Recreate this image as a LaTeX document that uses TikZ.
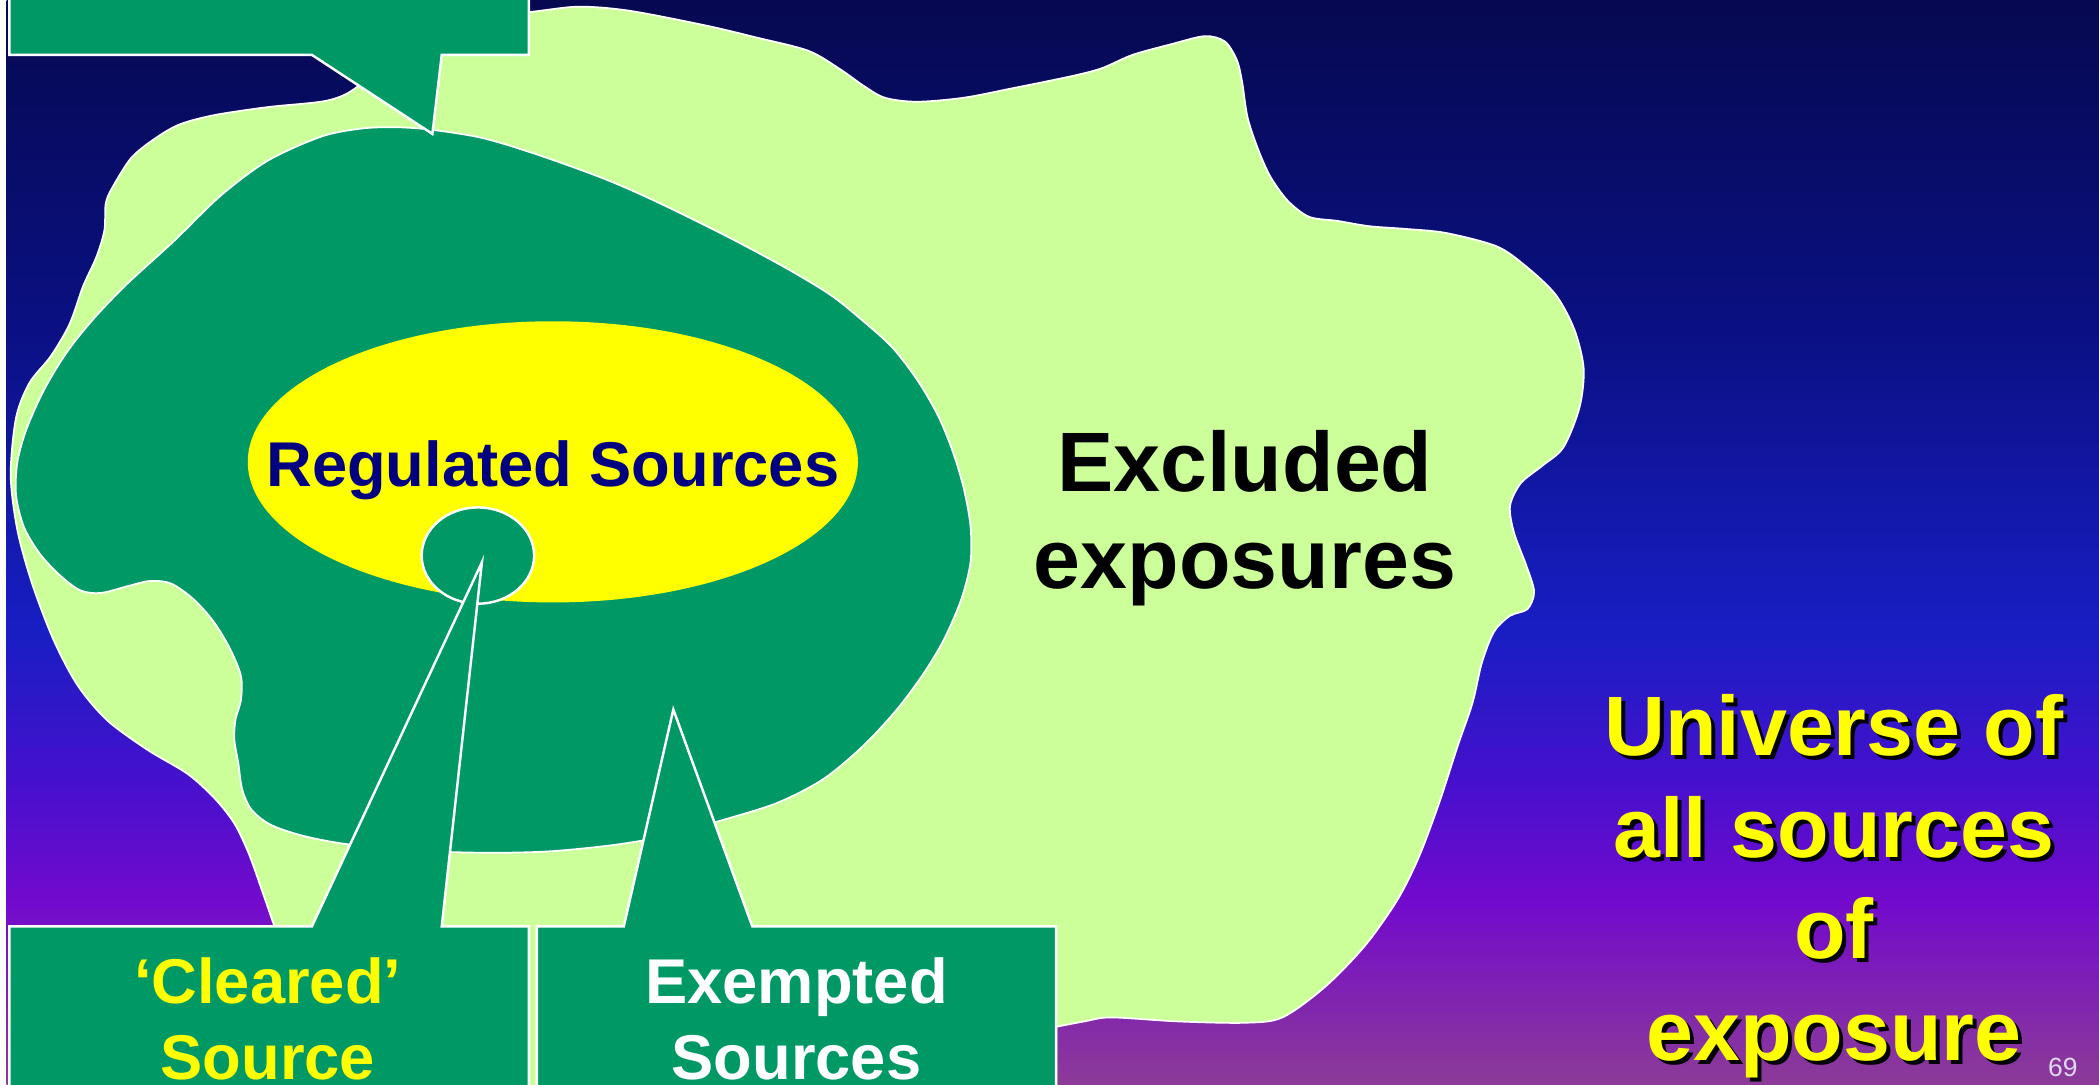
\documentclass[tikz,border=0pt]{standalone}
\usepackage{fontspec}
\setmainfont{Liberation Sans}
\definecolor{mydarkgreen}{RGB}{0,153,102}
\definecolor{mylightgreen}{RGB}{204,255,153}
\definecolor{mynavy}{RGB}{0,0,128}
\definecolor{myyellow}{RGB}{255,255,0}
\definecolor{mylavender}{RGB}{225,215,245}
\definecolor{bgtop}{RGB}{6,9,80}
\definecolor{bgupper}{RGB}{10,16,130}
\definecolor{bgblue}{RGB}{24,30,195}
\definecolor{bgviolet}{RGB}{70,16,205}
\definecolor{bgpurple}{RGB}{115,10,205}
\definecolor{bgbottom}{RGB}{140,60,150}
\pgfdeclareverticalshading{slidebg}{100bp}{color(0bp)=(bgbottom); color(25bp)=(bgbottom); color(33.5bp)=(bgpurple); color(39bp)=(bgviolet); color(46bp)=(bgblue); color(60bp)=(bgupper); color(75bp)=(bgtop); color(100bp)=(bgtop)}
\newcommand{\universetext}{Universe of\\all sources\\of\\exposure}
\tikzset{
    blob/.style={draw=white, line width=0.5pt},
    callout/.style={fill=mydarkgreen, draw=white, line width=0.7pt},
    boxtext/.style={align=center, font=\bfseries\fontsize{18}{21.7}\selectfont},
    bigtext/.style={align=center, font=\bfseries\fontsize{24}{27.4}\selectfont},
    universe/.style={align=center, font=\bfseries\fontsize{24}{28.9}\selectfont}
}

\begin{document}
\begin{tikzpicture}[x=0.133865mm, y=-0.133865mm]
    \useasboundingbox (0,0) rectangle (1568,810.5);
    \clip (0,0) rectangle (1568,810.5);

    % backdrop
    \fill[white] (0,0) rectangle (1568,810.5);
    \fill[shading=slidebg] (5,-1) rectangle (1569,812);

    % excluded exposures
    \filldraw[blob, fill=mylightgreen] plot[smooth, tension=0.5] coordinates {
        (205,692) (196,666) (186,638) (175,615) (160,596) (140,578) (110,560) (80,538)
        (58,512) (40,478) (24,436) (13,396) (8,355) (12,312) (22,286) (38,266) (52,242)
        (62,214) (72,192) (78,172) (79,152) (84,140) (98,118) (115,104) (134,93) (160,86)
        (200,80) (245,75) (268,64) (300,32) (350,12) (395,9) (432,5) (470,8) (527,19)
        (565,28) (604,38) (628,52) (645,64) (661,73) (685,76) (720,73) (756,66) (800,57)
        (823,51) (846,41) (875,33) (900,27) (915,31) (924,45) (928,62) (932,88) (940,112)
        (949,132) (962,150) (978,162) (999,165) (1023,169) (1050,171) (1080,174) (1118,184)
        (1140,199) (1162,220) (1176,246) (1183,275) (1180,304) (1168,334) (1152,348)
        (1136,361) (1128,378) (1131,398) (1140,422) (1146,442) (1141,455) (1128,460)
        (1116,472) (1107,495) (1100,525) (1089,557) (1075,600) (1060,640) (1044,672)
        (1020,706) (990,737) (958,760) (930,764) (880,763) (830,760) (810,763) (789,767)}
        -- (789,820) -- (205,820) -- cycle;

    % sources under regulatory control
    \filldraw[blob, fill=mydarkgreen] plot[smooth cycle, tension=0.5] coordinates {
        (323,97) (360,103) (400,115) (450,133) (489,150) (540,175) (585,199) (620,220)
        (645,240) (667,260) (686,285) (701,311) (712,338) (720,365) (725,393) (725,420)
        (718,448) (705,478) (690,503) (670,530) (645,557) (615,582) (580,600) (535,614)
        (500,624) (460,631) (410,636) (360,637) (300,635) (255,630) (225,624) (202,616)
        (188,605) (181,590) (178,570) (175,552) (176,537) (180,523) (180,505) (172,485)
        (160,465) (145,448) (128,436) (112,434) (95,438) (75,443) (60,441) (45,430)
        (30,414) (18,394) (12,370) (13,345) (20,320) (33,291) (50,263) (70,238) (95,212)
        (130,180) (165,146) (200,120) (240,102) (270,96) (296,95)};

    \fill[myyellow] (413,345) ellipse [x radius=86.8pt, y radius=40pt];
    \filldraw[blob, fill=mydarkgreen, line width=0.7pt] (357,415) ellipse [x radius=16pt, y radius=13.7pt];

    % callouts
    \filldraw[callout] (7,-10) |- (233,41) -- (323,100) -- (330,41) -| (395,-10) -- cycle;
    \filldraw[callout] (7,820) |- (233,692) -- (360,420) -- (330,692) -| (395,820) -- cycle;
    \filldraw[callout] (401,820) |- (466,692) -- (503,530) -- (562,692) -| (789,820) -- cycle;

    % labels
    \node[font=\bfseries\fontsize{18}{21.7}\selectfont, text=mynavy] (regulated) at (413,351) {Regulated Sources};
    \node[boxtext, text=myyellow] (cleared) at (200,761) {‘Cleared’\\Source};
    \node[boxtext, text=white] (exempted) at (595,761) {Exempted\\Sources};
    \node[bigtext, text=black] (excluded) at (930,387) {Excluded\\exposures};
    \node[universe, text=black] (universeshadow) at (1373,665) {\universetext};
    \node[universe, text=myyellow] (universe) at (1370,662) {\universetext};
    \node[text=mylavender, font=\fontsize{7.5}{9}\selectfont] (slideno) at (1541,797) {69};
\end{tikzpicture}
\end{document}
